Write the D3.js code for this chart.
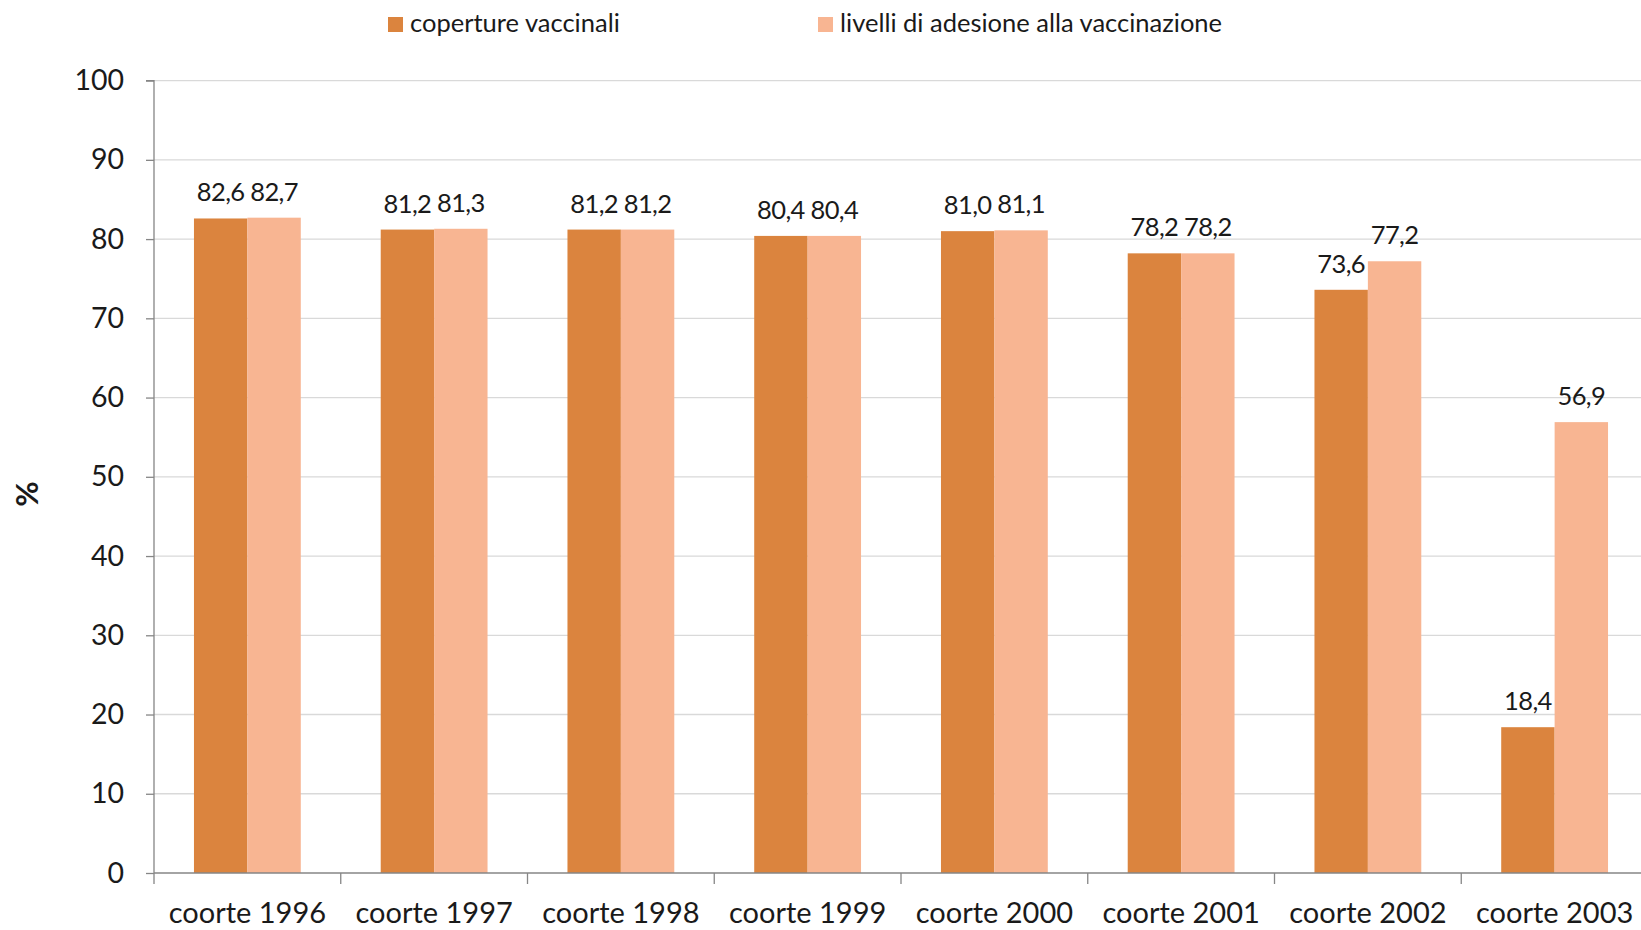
<!DOCTYPE html>
<html><head><meta charset="utf-8">
<script src="https://cdn.jsdelivr.net/npm/d3@7"></script>
<style>
html,body{margin:0;padding:0;background:#fff;}
svg{display:block;font-family:Lato,"Open Sans",sans-serif;}
</style></head>
<body>
<svg id="c" width="1641" height="930"></svg>
<script>
const categories = ["coorte 1996","coorte 1997","coorte 1998","coorte 1999","coorte 2000","coorte 2001","coorte 2002","coorte 2003"];
const seriesNames = ["coperture vaccinali","livelli di adesione alla vaccinazione"];
const coperture = [82.6, 81.2, 81.2, 80.4, 81.0, 78.2, 73.6, 18.4];
const adesione = [82.7, 81.3, 81.2, 80.4, 81.1, 78.2, 77.2, 56.9];
const yTicks = [0,10,20,30,40,50,60,70,80,90,100];
const colors = ["#DB843E","#F8B592"];

(function(){
const svg = d3.select("#c");
const mLeft = 154, mRight = 1648, mTop = 80.6, mBottom = 873;
const x = d3.scaleBand().domain(categories).range([mLeft, mRight]).paddingInner(0).paddingOuter(0);
const y = d3.scaleLinear().domain([0,100]).range([mBottom, mTop]);
const gap = 0.214;
const x1 = d3.scaleBand().domain(seriesNames).range([x.bandwidth()*gap, x.bandwidth()*(1-gap)]);

svg.append("g").selectAll("line").data(yTicks.filter(d=>d>0)).join("line")
  .attr("x1", mLeft).attr("x2", 1641).attr("y1", d=>y(d)).attr("y2", d=>y(d))
  .attr("stroke","#d9d9d9").attr("stroke-width",1.3);

const data = categories.map((c,i)=>({c, vals:[coperture[i], adesione[i]]}));
const g = svg.append("g").selectAll("g").data(data).join("g").attr("transform", d=>`translate(${x(d.c)},0)`);
g.selectAll("rect").data(d=>d.vals.map((v,j)=>({v, s:seriesNames[j], j}))).join("rect")
  .attr("x", d=>x1(d.s)).attr("width", x1.bandwidth())
  .attr("y", d=>y(d.v)).attr("height", d=>mBottom-y(d.v))
  .attr("fill", d=>colors[d.j]);
g.selectAll("text").data(d=>d.vals.map((v,j)=>({v, s:seriesNames[j], j}))).join("text")
  .attr("x", d=>x1(d.s)+x1.bandwidth()/2).attr("y", d=>y(d.v)-17)
  .attr("text-anchor","middle").attr("font-size",25.5).attr("letter-spacing",-0.6).attr("fill","#1a1a1a")
  .text(d=>d.v.toFixed(1).replace(".",","));

const ya = svg.append("g").attr("transform",`translate(${mLeft},0)`)
  .call(d3.axisLeft(y).tickValues(yTicks).tickSize(8).tickPadding(22).tickFormat(d=>d));
ya.select(".domain").attr("stroke","#868686").attr("stroke-width",1.3).attr("d",`M-8,${mTop}H0V${mBottom}`);
ya.selectAll(".tick line").attr("stroke","#868686").attr("stroke-width",1.3);
ya.selectAll(".tick text").attr("font-size",28.5).attr("fill","#1a1a1a").attr("font-family","Lato,sans-serif");

const xa = svg.append("g").attr("transform",`translate(0,${mBottom})`)
  .call(d3.axisBottom(x).tickSize(0).tickPadding(29));
xa.select(".domain").attr("stroke","#868686").attr("stroke-width",1.3).attr("d",`M${mLeft},0H1641`);
xa.selectAll(".tick text").attr("font-size",29).attr("fill","#1a1a1a").attr("font-family","Lato,sans-serif");
svg.append("g").selectAll("line").data(categories).join("line")
  .attr("x1", d=>x(d)).attr("x2", d=>x(d)).attr("y1", mBottom).attr("y2", mBottom+11)
  .attr("stroke","#868686").attr("stroke-width",1.3);

svg.append("text").attr("transform","translate(38,494) rotate(-90)")
  .attr("text-anchor","middle").attr("font-size",31).attr("font-weight","bold").attr("fill","#1a1a1a").text("%");

const legX = [388, 818];
const lg = svg.append("g").selectAll("g").data(seriesNames).join("g")
  .attr("transform",(d,i)=>`translate(${legX[i]},17)`);
lg.append("rect").attr("width",15).attr("height",15).attr("fill",(d,i)=>colors[i]);
lg.append("text").attr("x",22).attr("y",15).attr("font-size",25.5).attr("fill","#1a1a1a").text(d=>d);
})();
</script>
</body></html>
